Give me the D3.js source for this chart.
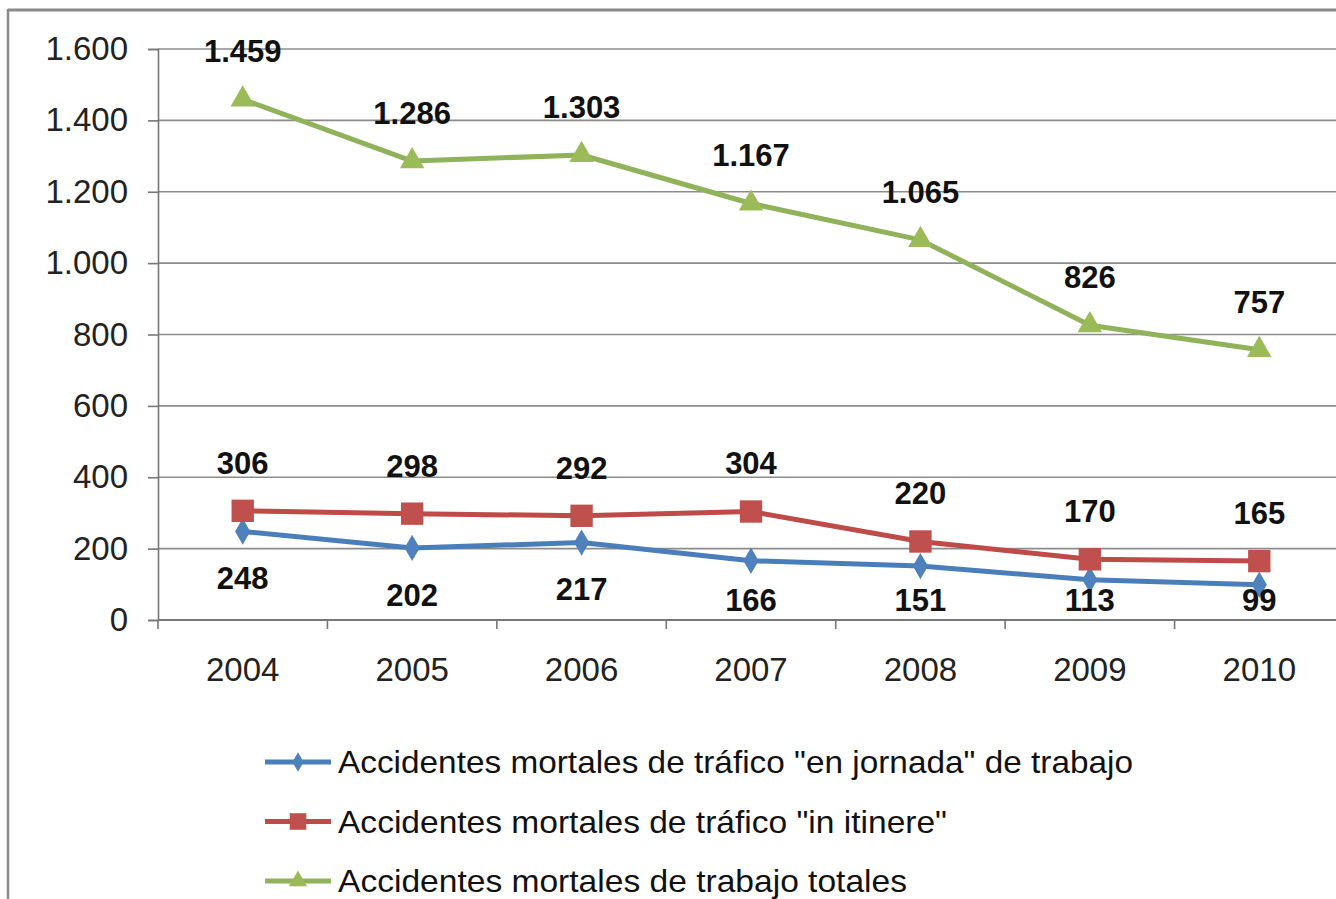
<!DOCTYPE html>
<html>
<head>
<meta charset="utf-8">
<script src="https://cdn.jsdelivr.net/npm/d3@7"></script>
<style>
  body { margin: 0; background: #fff; }
  svg { display: block; font-family: "Liberation Sans", Arial, sans-serif; }
</style>
</head>
<body>
<svg id="chart" width="1336" height="899"></svg>
<script>
var years = ["2004", "2005", "2006", "2007", "2008", "2009", "2010"];
var enJornada = [248, 202, 217, 166, 151, 113, 99];
var inItinere = [306, 298, 292, 304, 220, 170, 165];
var totales = [1459, 1286, 1303, 1167, 1065, 826, 757];
var yTicks = [0, 200, 400, 600, 800, 1000, 1200, 1400, 1600];
var legendNames = [
    "Accidentes mortales de tráfico \"en jornada\" de trabajo",
    "Accidentes mortales de tráfico \"in itinere\"",
    "Accidentes mortales de trabajo totales"
];

var width = 1336, height = 899;
var svg = d3.select("#chart");

var locale = d3.formatLocale({decimal: ",", thousands: ".", grouping: [3], currency: ["", " €"]});
var fmt = locale.format(",d");

var x = d3.scaleBand().domain(years).range([158, 1344]);
var y = d3.scaleLinear().domain([0, 1600]).range([620, 49]);

// frame of the original picture
svg.append("line").attr("x1", 8).attr("x2", width).attr("y1", 10).attr("y2", 10)
   .style("stroke", "#8a8a8a").style("stroke-width", 3);
svg.append("line").attr("x1", 8).attr("x2", 8).attr("y1", 9).attr("y2", height)
   .style("stroke", "#8a8a8a").style("stroke-width", 2.5);

// gridlines
svg.append("g").selectAll("line")
    .data(yTicks.filter(function(d){ return d > 0; }))
    .enter().append("line")
    .attr("x1", 158).attr("x2", width)
    .attr("y1", function(d){ return y(d); })
    .attr("y2", function(d){ return y(d); })
    .style("stroke", "#8c8c8c").style("stroke-width", 1.6);

// y axis
var yAxis = svg.append("g").attr("transform", "translate(158,0)")
    .call(d3.axisLeft(y).tickValues(yTicks).tickFormat(fmt).tickSize(10).tickPadding(20));
yAxis.selectAll("text").style("font-size", "33px").style("fill", "#222");
yAxis.selectAll("line, path").style("stroke", "#777").style("stroke-width", 1.6);

// x axis
var xAxis = svg.append("g").attr("transform", "translate(0,620)")
    .call(d3.axisBottom(x).tickSize(0).tickSizeOuter(0).tickPadding(38));
xAxis.select(".domain").attr("d", "M158,0H" + width).style("stroke", "#777").style("stroke-width", 1.8);
xAxis.selectAll("text").style("font-size", "33px").style("fill", "#222");
xAxis.selectAll(".bound")
    .data(years)
    .enter().append("line")
    .attr("class", "bound")
    .attr("x1", function(d){ return x(d); })
    .attr("x2", function(d){ return x(d); })
    .attr("y1", 0).attr("y2", 9)
    .style("stroke", "#777").style("stroke-width", 1.6);

var series = [
    {values: enJornada, line: "#4A7EBB", fill: "#4F81BD", marker: d3.symbolDiamond, size: 200, label: "below"},
    {values: inItinere, line: "#BE4B48", fill: "#C0504D", marker: d3.symbolSquare, size: 500, label: "above"},
    {values: totales, line: "#8FB25A", fill: "#9BBB59", marker: d3.symbolTriangle, size: 260, label: "above"}
];

var cx = function(i){ return x(years[i]) + x.bandwidth() / 2; };

var line = d3.line()
    .x(function(d, i){ return cx(i); })
    .y(function(d){ return y(d); });

series.forEach(function(s){
    var g = svg.append("g");
    g.append("path")
        .datum(s.values)
        .attr("d", line)
        .style("fill", "none")
        .style("stroke", s.line)
        .style("stroke-width", 5)
        .style("stroke-linejoin", "round");
    g.selectAll(".mark")
        .data(s.values)
        .enter().append("path")
        .attr("class", "mark")
        .attr("transform", function(d, i){ return "translate(" + cx(i) + "," + y(d) + ")"; })
        .attr("d", d3.symbol().type(s.marker).size(s.size))
        .style("fill", s.fill);
});

// data labels (kept inside the plot area, like Excel does)
series.forEach(function(s){
    svg.append("g").selectAll("text")
        .data(s.values)
        .enter().append("text")
        .attr("x", function(d, i){ return cx(i); })
        .attr("y", function(d){
            return s.label == "above" ? y(d) - 48 : Math.min(y(d) + 47, 600);
        })
        .attr("dy", "0.35em")
        .attr("text-anchor", "middle")
        .style("font-size", "31px")
        .style("font-weight", "bold")
        .style("fill", "#111")
        .text(function(d){ return fmt(d); });
});

// legend
var legendWidths = [795, 609, 569];
var legend = svg.append("g").selectAll("g")
    .data(series)
    .enter().append("g")
    .attr("transform", function(d, i){ return "translate(265," + (762 + i * 59.5) + ")"; });
legend.append("line")
    .attr("x1", 0).attr("x2", 66)
    .style("stroke", function(d){ return d.line; })
    .style("stroke-width", 5);
legend.append("path")
    .attr("transform", "translate(33,0)")
    .attr("d", function(d){ return d3.symbol().type(d.marker).size(d.size * 0.55)(); })
    .style("fill", function(d){ return d.fill; });
legend.append("text")
    .attr("x", 73)
    .attr("dy", "0.35em")
    .attr("textLength", function(d, i){ return legendWidths[i]; })
    .attr("lengthAdjust", "spacingAndGlyphs")
    .style("font-size", "32px")
    .style("fill", "#111")
    .text(function(d, i){ return legendNames[i]; });
</script>
</body>
</html>
